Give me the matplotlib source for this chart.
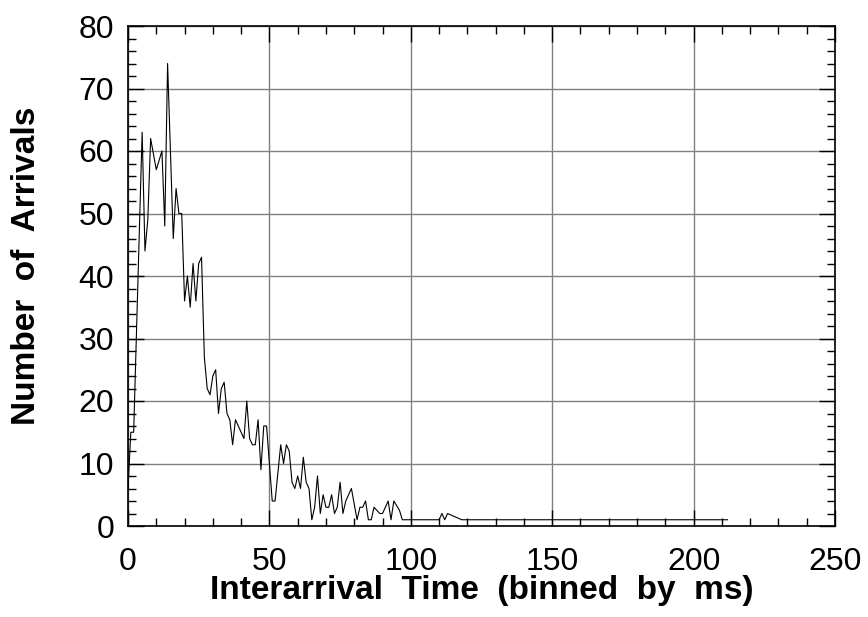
import matplotlib
matplotlib.use('Agg')
import matplotlib.pyplot as plt
from matplotlib.ticker import MultipleLocator

# interarrival time bins (ms) and counts at each visible vertex
time_ms = [0, 1, 2, 5, 6, 7, 8, 10, 12, 13, 14, 16, 17, 18, 19, 20, 21, 22, 23, 24,
           25, 26, 27, 28, 29, 30, 31, 32, 33, 34, 35, 36, 37, 38, 39, 41, 42, 43, 44,
           45, 46, 47, 48, 49, 51, 52, 54, 55, 56, 57, 58, 59, 60, 61, 62, 63, 64, 65,
           66, 67, 68, 69, 70, 71, 72, 73, 74, 75, 76, 77, 79, 81, 82, 83, 84, 85, 86,
           87, 88, 89, 90, 92, 93, 94, 96, 97, 110, 111, 112, 113, 118, 212]
arrivals = [6, 15, 15, 63, 44, 49, 62, 57, 60, 48, 74, 46, 54, 50, 50, 36, 40, 35, 42, 36,
            42, 43, 27, 22, 21, 24, 25, 18, 22, 23, 18, 17, 13, 17, 16, 14, 20, 14, 13,
            13, 17, 9, 16, 16, 4, 4, 13, 10, 13, 12, 7, 6, 8, 6, 11, 7, 6, 1,
            3, 8, 2, 5, 3, 3, 5, 2, 3, 7, 2, 4, 6, 1, 3, 3, 4, 1, 1,
            3, 2.5, 2, 2, 4, 1, 4, 2.5, 1, 1, 2, 1, 2, 1, 1]

plt.rcParams['font.family'] = ['Liberation Sans', 'DejaVu Sans']

fig = plt.figure(figsize=(8.68, 6.17), dpi=100)
ax = fig.add_axes([128 / 868, 91 / 617, 707 / 868, 500 / 617])

ax.plot(time_ms, arrivals, '-', color='black', linewidth=0.8, zorder=3)

ax.set_xlim(0, 250)
ax.set_ylim(0, 80)
ax.xaxis.set_major_locator(MultipleLocator(50))
ax.xaxis.set_minor_locator(MultipleLocator(10))
ax.yaxis.set_major_locator(MultipleLocator(10))
ax.yaxis.set_minor_locator(MultipleLocator(2))
ax.grid(True, which='major', color='#808080', linewidth=1.0, zorder=1)
ax.tick_params(which='both', direction='in', top=True, right=True,
               width=1.0, color='black', labelsize=23)
ax.tick_params(which='major', length=11.5)
ax.tick_params(which='minor', length=5.8)
ax.tick_params(axis='y', pad=10)
ax.tick_params(axis='x', pad=15)
for s in ax.spines.values():
    s.set_linewidth(1.2)

ax.set_xlabel('Interarrival  Time  (binned  by  ms)', fontsize=24, fontweight='bold')
ax.xaxis.set_label_coords(0.5, -0.13)
ax.xaxis.label.set_va('center')
ax.set_ylabel('Number  of  Arrivals', fontsize=24, fontweight='bold')
ax.yaxis.set_label_coords(-0.143, 0.52)
ax.yaxis.label.set_va('center')

fig.savefig('out.png', dpi=100)
